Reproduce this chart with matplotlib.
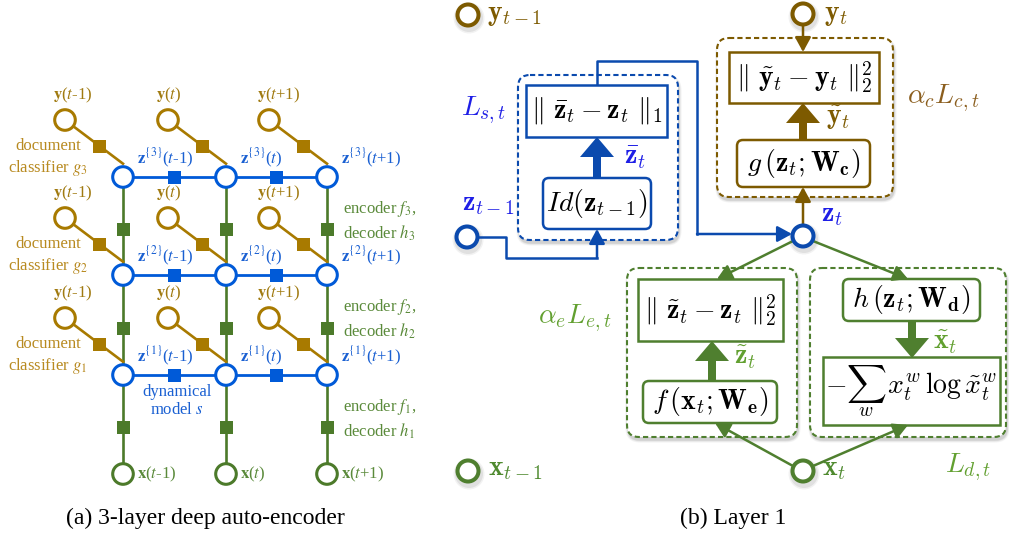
import matplotlib
matplotlib.use('Agg')
import matplotlib.pyplot as plt
from matplotlib.patches import Circle, Rectangle, FancyBboxPatch, FancyArrowPatch, FancyArrow
from matplotlib.font_manager import FontProperties

# ---------------- data ----------------
time_steps = ['$t$-1', '$t$', '$t$+1']
layers = [3, 2, 1]
caption_a = '(a) 3-layer deep auto-encoder'
caption_b = '(b) Layer 1'
loss_s = r'$\Vert\ \bar{\mathbf{z}}_t - \mathbf{z}_t\ \Vert_1$'
func_s = r'$Id(\mathbf{z}_{t-1})$'
loss_c = r'$\Vert\ \tilde{\mathbf{y}}_t - \mathbf{y}_t\ \Vert_2^2$'
func_c = r'$g\,(\mathbf{z}_t;\mathbf{W}_{\mathbf{c}})$'
loss_e = r'$\Vert\ \tilde{\mathbf{z}}_t - \mathbf{z}_t\ \Vert_2^2$'
func_e = r'$f\,(\mathbf{x}_t;\mathbf{W}_{\mathbf{e}})$'
func_d = r'$h\,(\mathbf{z}_t;\mathbf{W}_{\mathbf{d}})$'
loss_d = r'$-\sum_w\, x_t^w\,\log\tilde{x}_t^w$'

# ---------------- figure ----------------
W, H = 1009, 534
fig = plt.figure(figsize=(W / 100, H / 100), dpi=100)
ax = fig.add_axes([0, 0, 1, 1])
ax.set_xlim(0, W)
ax.set_ylim(H, 0)
ax.axis('off')
PT = 0.72

GOLD = '#A87A00'; GOLD_T = '#B88A20'; GOLD_L = '#A07A10'
BLUE = '#005AD8'; BLUE_T = '#1A60D2'
GREEN = '#4C7A2A'; GREEN_T = '#5A8A3A'

def fp(size, family='Liberation Serif', math='stix'):
    return FontProperties(family=family, size=size, math_fontfamily=math)

def txt(x, y, s, size, color, ha='left', va='center', math='stix', **kw):
    ax.text(x, y, s, color=color, ha=ha, va=va,
            fontproperties=fp(size, math=math), **kw)

# ---------------- panel (a) ----------------
col_x = [123, 226, 327]
row_y = [177, 275, 375]
x_row = 474
R_a = 10.3
LW_a = 2.2

def square(x, y, color, s=13):
    ax.add_patch(Rectangle((x - s / 2, y - s / 2), s, s, color=color, zorder=3, lw=0))

for j, cx in enumerate(col_x):
    # green vertical line
    ax.plot([cx, cx], [row_y[0], x_row], color=GREEN, lw=1.9, zorder=1, solid_capstyle='butt')
    ys = row_y + [x_row]
    for k in range(3):
        square(cx, (ys[k] + ys[k + 1]) / 2 + 3, GREEN)
    ax.add_patch(Circle((cx, x_row), R_a, facecolor='white', edgecolor=GREEN, lw=LW_a, zorder=4))
    txt(cx + 14, x_row, r'$\mathbf{x}$(' + time_steps[j] + ')', 12, GREEN_T)

for i, L in enumerate(layers):
    ry = row_y[i]
    ax.plot([col_x[0], col_x[-1]], [ry, ry], color=BLUE, lw=2.0, zorder=1)
    for j in range(2):
        square((col_x[j] + col_x[j + 1]) / 2, ry, BLUE)
    for j, cx in enumerate(col_x):
        yx, yy = cx - 58, ry - 57
        tx, ty = cx, ry - R_a - 3
        ax.plot([yx, tx], [yy, ty], color=GOLD, lw=1.9, zorder=1)
        square(yx + 0.6 * (tx - yx), yy + 0.6 * (ty - yy), GOLD)
        ax.add_patch(Circle((yx, yy), R_a, facecolor='white', edgecolor=GOLD, lw=LW_a, zorder=4))
        ax.add_patch(Circle((cx, ry), R_a, facecolor='white', edgecolor=BLUE, lw=LW_a, zorder=4))
        txt(yx - 12, yy - 25, r'$\mathbf{y}$(' + time_steps[j] + ')', 12, GOLD_L)
        txt(cx + 14, ry - 19, r'$\mathbf{z}^{\{%d\}}$(' % L + time_steps[j] + ')', 12, BLUE_T)
    txt(48, ry - 19, 'document\nclassifier $g_%d$' % L, 12, GOLD_T, ha='center', linespacing=1.25)
    txt(343, ry + 44, 'encoder $f_%d$,\ndecoder $h_%d$' % (L, L), 12, GREEN_T, linespacing=1.25)

txt(177, 401, 'dynamical\nmodel $s$', 12, BLUE_T, ha='center', linespacing=1.25)
txt(205, 518, caption_a, 17, 'black', ha='center')

# ---------------- panel (b) ----------------
B_BLUE = '#0B4AAE'; B_BLUE_T = '#1E1EE6'
BROWN = '#7D5A00'; BROWN_T = '#8B5E1E'
B_GREEN = '#4F7F2F'; B_GREEN_T = '#62A030'; B_GREEN_X = '#4F8A2F'
MS = 20  # math size

def shadow(x0, y0, x1, y1, rad, z=0.5):
    for k, a in [(5, 0.05), (3, 0.06), (1.5, 0.08)]:
        ax.add_patch(FancyBboxPatch((x0 + 1 - k / 2, y0 + 3 - k / 2), x1 - x0 + k, y1 - y0 + k,
                                    boxstyle='round,pad=0,rounding_size=%g' % (rad + k / 2),
                                    facecolor='black', edgecolor='none', alpha=a, zorder=z))

def dashed_box(x0, y0, x1, y1, color):
    shadow(x0, y0, x1, y1, 12)
    ax.add_patch(FancyBboxPatch((x0, y0), x1 - x0, y1 - y0, boxstyle='round,pad=0,rounding_size=12',
                                facecolor='white', edgecolor=color, lw=1.5, ls=(0, (2.5, 1.5)), zorder=1))

def box(x0, y0, x1, y1, color, text, rounded=False, size=MS):
    style = 'round,pad=0,rounding_size=6' if rounded else 'square,pad=0'
    ax.add_patch(FancyBboxPatch((x0, y0), x1 - x0, y1 - y0, boxstyle=style,
                                facecolor='white', edgecolor=color, lw=1.8, zorder=3))
    ax.text((x0 + x1) / 2, (y0 + y1) / 2, text, ha='center', va='center', color='black',
            fontproperties=fp(size, math='cm'), zorder=5)

def node(x, y, color, r=10.5):
    for k, a in [(3, 0.05), (1.5, 0.07)]:
        ax.add_patch(Circle((x + 1, y + 3), r + 2 + k, facecolor='black', edgecolor='none', alpha=a, zorder=0.5))
    ax.add_patch(Circle((x, y), r, facecolor='white', edgecolor=color, lw=2.9, zorder=4))

def arrow(p0, p1, color, lw=1.8):
    ax.add_patch(FancyArrowPatch(p0, p1, arrowstyle='-|>,head_length=0.55,head_width=0.3',
                                 mutation_scale=16, color=color, lw=lw, shrinkA=0, shrinkB=0, zorder=3))

def thick(x, y0, y1, color):
    ax.add_patch(FancyArrow(x, y0, 0, y1 - y0, width=8, head_width=34, head_length=20,
                            length_includes_head=True, color=color, lw=0, zorder=3))

def mtxt(x, y, s, color, ha='left', size=MS):
    ax.text(x, y, s, ha=ha, va='center', color=color, fontproperties=fp(size, math='cm'), zorder=6)

# classifier block
dashed_box(717, 38, 893, 197, BROWN)
box(729, 52, 879, 103, BROWN, loss_c)
box(737, 140, 870, 187, BROWN, func_c, rounded=True)
thick(803, 140, 103, BROWN)
arrow((803, 26), (803, 52), BROWN)
arrow((803, 224), (803, 187), BROWN)
mtxt(826, 118, r'$\tilde{\mathbf{y}}_t$', BROWN)
mtxt(907, 98, r'$\alpha_c L_{c,t}$', BROWN_T)

# dynamical block
dashed_box(518, 75, 678, 240, B_BLUE)
box(526, 85, 667, 137, B_BLUE, loss_s)
box(543, 178, 651, 229, B_BLUE, func_s, rounded=True)
thick(597, 178, 137, B_BLUE)
mtxt(624, 158, r'$\bar{\mathbf{z}}_t$', B_BLUE_T)
ax.plot([479, 506, 506, 597], [237, 237, 258, 258], color=B_BLUE, lw=1.8, zorder=2)
arrow((597, 258), (597, 229), B_BLUE)
ax.plot([597, 597, 697, 697], [85, 61, 61, 234], color=B_BLUE, lw=1.8, zorder=2)
arrow((697, 234), (792, 234), B_BLUE)
mtxt(461, 110, r'$L_{s,t}$', B_BLUE_T)

# encoder block
dashed_box(627, 268, 797, 437, B_GREEN)
box(638, 279, 783, 341, B_GREEN, loss_e)
box(643, 381, 777, 423, B_GREEN, func_e, rounded=True)
thick(712, 381, 341, B_GREEN)
mtxt(734, 357, r'$\tilde{\mathbf{z}}_t$', B_GREEN_T)
mtxt(612, 318, r'$\alpha_e L_{e,t}$', B_GREEN_T, ha='right')

# decoder block
dashed_box(810, 268, 1006, 437, B_GREEN)
box(843, 279, 980, 321, B_GREEN, func_d, rounded=True)
box(823, 357, 1000, 425, B_GREEN, loss_d)
thick(912, 321, 358, B_GREEN)
mtxt(933, 342, r'$\tilde{\mathbf{x}}_t$', B_GREEN_T)
mtxt(945, 467, r'$L_{d,t}$', B_GREEN_T)

# z_t connections
arrow((793, 241), (717, 279), B_GREEN)
arrow((813, 241), (908, 279), B_GREEN)
arrow((793, 466), (715, 423), B_GREEN)
arrow((813, 466), (908, 425), B_GREEN)

# nodes
node(468, 15, BROWN); mtxt(487, 15, r'$\mathbf{y}_{t-1}$', BROWN)
node(803, 14, BROWN); mtxt(824, 15, r'$\mathbf{y}_t$', BROWN)
node(467, 237, B_BLUE); mtxt(462, 204, r'$\mathbf{z}_{t-1}$', B_BLUE_T)
node(803, 236, B_BLUE); mtxt(821, 215, r'$\mathbf{z}_t$', B_BLUE_T)
node(468, 471, B_GREEN); mtxt(488, 470, r'$\mathbf{x}_{t-1}$', B_GREEN_X)
node(803, 471, B_GREEN); mtxt(822, 470, r'$\mathbf{x}_t$', B_GREEN_X)

txt(733, 518, caption_b, 17, 'black', ha='center')

fig.savefig('out.png', dpi=100)
